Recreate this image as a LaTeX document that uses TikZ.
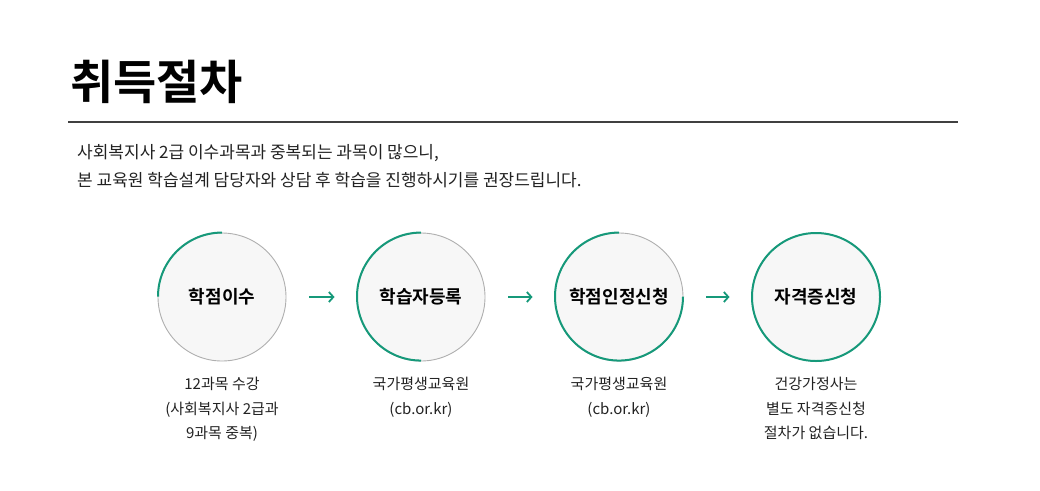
\documentclass[tikz,border=0pt]{standalone}
\usepackage{fontspec}
\setmainfont{Noto Sans CJK KR}
\newfontfamily\krb{Noto Sans CJK KR Bold}
\usetikzlibrary{arrows.meta}
\definecolor{ringgreen}{HTML}{16997A}
\definecolor{ringgray}{HTML}{AFAFAF}
\definecolor{circfill}{HTML}{F7F7F7}
\definecolor{txt}{HTML}{222222}
\tikzset{
  stepcircle/.style={circle, draw=ringgray, line width=0.9pt, fill=circfill, minimum size=128pt, inner sep=0pt, text=black, font=\krb\fontsize{18}{20}\selectfont},
  greenarc/.style={draw=ringgreen, line width=2pt},
  flowarrow/.style={draw=ringgreen, line width=1.8pt, -{Straight Barb[length=4.5pt,width=10pt,line width=1.8pt]}},
  note/.style={align=center, text=txt, font=\fontsize{15}{24.5}\selectfont, anchor=north, inner sep=0pt},
}
\begin{document}
\begin{tikzpicture}[x=1pt,y=-1pt]
\useasboundingbox (0,0) rectangle (1040,490);
\node[anchor=west, inner sep=0pt, font=\krb\fontsize{47}{50}\selectfont, text=black] (title) at (70,82) {취득절차};
\coordinate (ruleL) at (68,122);
\coordinate (ruleR) at (958,122);
\draw[line width=1.3pt, draw=black!75] (ruleL) -- (ruleR);
\node[anchor=west, inner sep=0pt, text=txt, font=\fontsize{17}{28}\selectfont, align=left] (desc) at (77,166) {사회복지사 2급 이수과목과 중복되는 과목이 많으니,\\본 교육원 학습설계 담당자와 상담 후 학습을 진행하시기를 권장드립니다.};

\node[stepcircle] (c1) at (222,297) {학점이수};
\node[stepcircle] (c2) at (421,297) {학습자등록};
\node[stepcircle] (c3) at (619,297) {학점인정신청};
\node[stepcircle] (c4) at (816,297) {자격증신청};

\draw[greenarc] (c1.north) arc[start angle=90, end angle=180, radius=64pt];
\draw[greenarc] (c2.north) arc[start angle=90, end angle=270, radius=64pt];
\draw[greenarc] (c3.north) arc[start angle=90, end angle=360, radius=64pt];
\draw[greenarc] (c4.center) circle[radius=64pt];

\draw[flowarrow] ([xshift=23pt]c1.east) -- ([xshift=-22pt]c2.west);
\draw[flowarrow] ([xshift=23pt]c2.east) -- ([xshift=-22pt]c3.west);
\draw[flowarrow] ([xshift=23pt]c3.east) -- ([xshift=-22pt]c4.west);

\node[note] (n1) at (222,377) {12과목 수강\\(사회복지사 2급과\\9과목 중복)};
\node[note] (n2) at (421,377) {국가평생교육원\\(cb.or.kr)};
\node[note] (n3) at (619,377) {국가평생교육원\\(cb.or.kr)};
\node[note] (n4) at (816,377) {건강가정사는\\별도 자격증신청\\절차가 없습니다.};
\end{tikzpicture}
\end{document}
